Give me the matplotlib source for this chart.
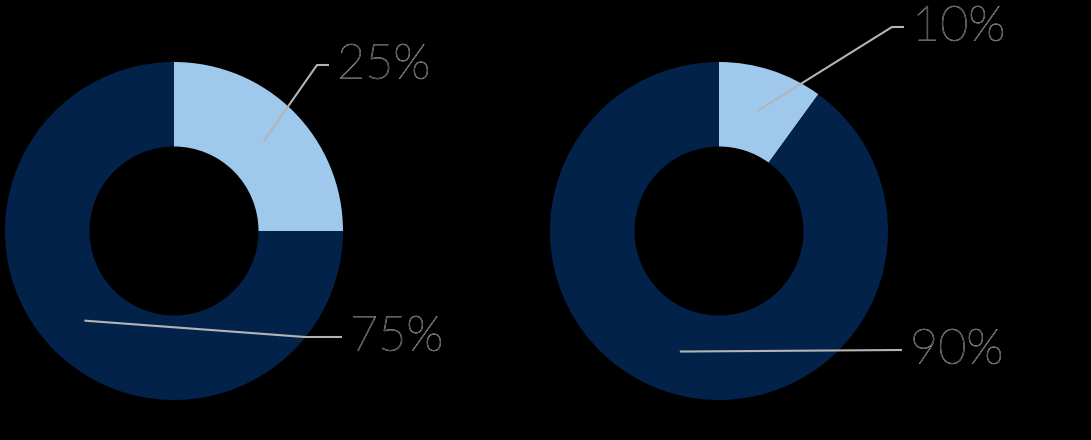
import numpy as np
import matplotlib.pyplot as plt
import matplotlib.patheffects as pe

# 値
shares_left = [25, 75]
shares_right = [10, 90]
labels_left = ['25%', '75%']
labels_right = ['10%', '90%']

light_blue = '#9fc9ec'
navy = '#03224a'
line_gray = '#b4b4b4'


def donut(ax, cx, cy, radius, shares, labels, label_pos):
    wedges, _ = ax.pie(shares, colors=[light_blue, navy], startangle=90,
                       counterclock=False, radius=radius, center=(cx, cy),
                       wedgeprops=dict(width=radius * 0.5, linewidth=0))
    r_mid = radius * 0.75
    for w, lab, (ex, ey, tx) in zip(wedges, labels, label_pos):
        ang = np.deg2rad((w.theta1 + w.theta2) / 2)
        sx = cx + r_mid * np.cos(ang)
        sy = cy + r_mid * np.sin(ang)
        ax.plot([sx, ex, tx - 8], [sy, ey, ey], color=line_gray, lw=1.5,
                solid_capstyle='butt')
        ax.text(tx, ey, lab, fontsize=35, family='Lato', fontweight='light',
                color='black', va='center', ha='left',
                path_effects=[pe.withStroke(linewidth=0.5, foreground='#c8c8c8')])


def main():
    fig = plt.figure(figsize=(10.91, 4.4), dpi=100, facecolor='black')
    ax = fig.add_axes([0, 0, 1, 1])
    ax.set_facecolor('black')

    # 左のドーナツ
    donut(ax, 174, 209, 169, shares_left, labels_left,
          [(317, 375, 337), (305, 103, 350)])
    # 右のドーナツ
    donut(ax, 719, 209, 169, shares_right, labels_right,
          [(892, 413, 912), (900, 90, 910)])

    ax.set_xlim(0, 1091)
    ax.set_ylim(0, 440)
    ax.set_aspect('equal')
    ax.axis('off')
    fig.savefig('out.png', dpi=100, facecolor='black')


if __name__ == '__main__':
    main()
